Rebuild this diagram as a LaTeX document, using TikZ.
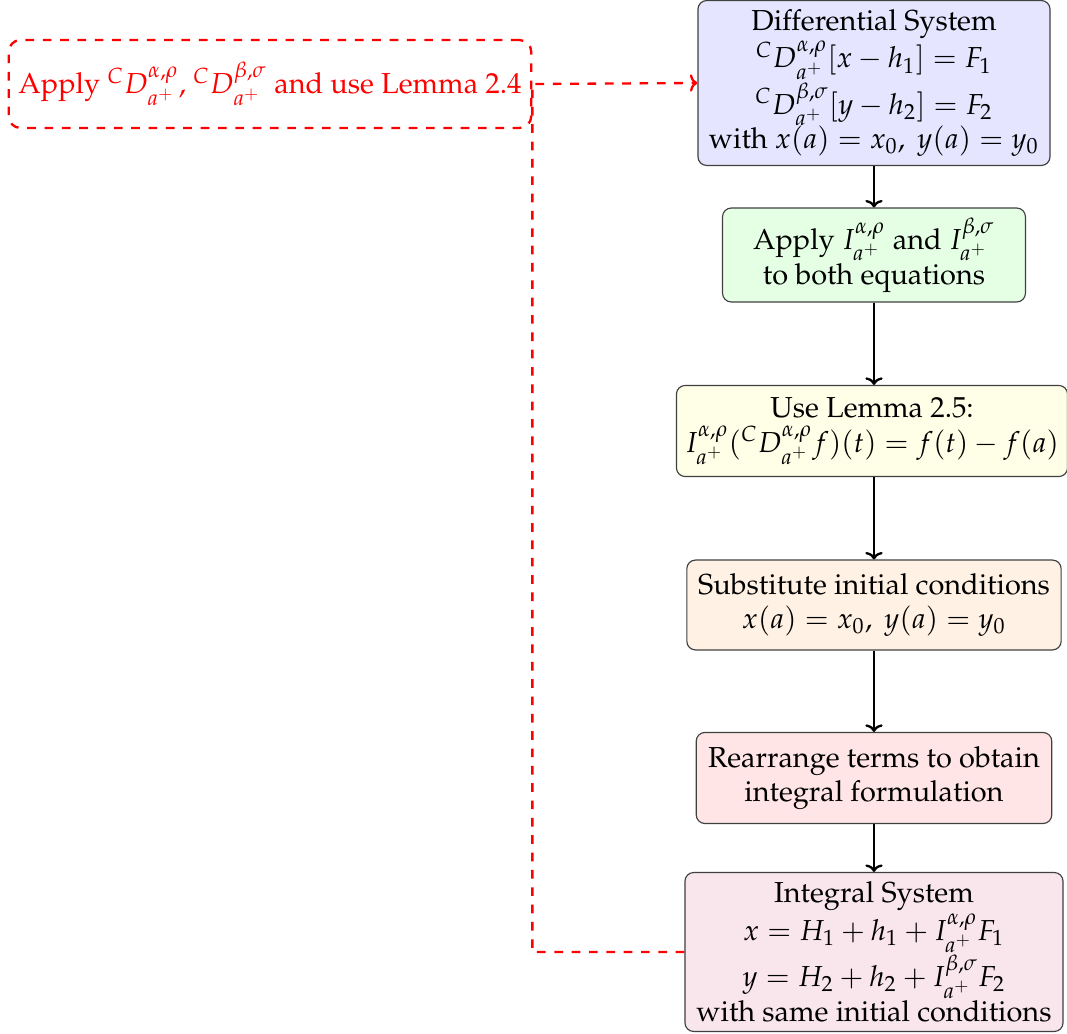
\documentclass[tikz,border=0pt]{standalone}
\usepackage[T1]{fontenc}
\usepackage{mathpazo}
\usetikzlibrary{arrows.meta}
\begin{document}
\begin{tikzpicture}[x=0.346pt,y=-0.346pt,
  box/.style={draw=black!75, rounded corners=3pt, align=center, inner sep=3pt, font=\normalsize},
  flow/.style={-{To[length=2.6pt,width=6pt]}, thick, black},
  reddash/.style={-{To[length=2.6pt,width=6pt]}, red, dashed, thick},
  applybox/.style={draw=red, dashed, thick, rounded corners=4pt, text=red, font=\normalsize, minimum width=180pt, minimum height=30.4pt}]
\useasboundingbox (0,0) rectangle (1067,1034);
\node[box, fill=blue!10, minimum width=121.8pt, minimum height=56.7pt] (diff) at (874,83)
  {Differential System\\ ${}^{C}D^{\alpha,\rho}_{a^+}[x-h_1]=F_1$\\ ${}^{C}D^{\beta,\sigma}_{a^+}[y-h_2]=F_2$\\ with $x(a)=x_0,\ y(a)=y_0$};
\node[box, fill=green!10, minimum width=104.8pt, minimum height=32.5pt] (apI) at (874,255)
  {Apply $I^{\alpha,\rho}_{a^+}$ and $I^{\beta,\sigma}_{a^+}$\\ to both equations};
\node[box, fill=yellow!10, minimum width=134pt, minimum height=31.5pt] (lem) at (872,431)
  {Use Lemma 2.5:\\ $I^{\alpha,\rho}_{a^+}({}^{C}D^{\alpha,\rho}_{a^+}f)(t)=f(t)-f(a)$};
\node[box, fill=orange!10, minimum width=129.5pt, minimum height=31.1pt] (sub) at (874,605)
  {Substitute initial conditions\\ $x(a)=x_0,\ y(a)=y_0$};
\node[box, fill=red!10, minimum width=123pt, minimum height=31.5pt] (rea) at (874,778)
  {Rearrange terms to obtain\\ integral formulation};
\node[box, fill=purple!10, minimum width=130.8pt, minimum height=55pt] (int) at (874,952)
  {Integral System\\ $x=H_1+h_1+I^{\alpha,\rho}_{a^+}F_1$\\ $y=H_2+h_2+I^{\beta,\sigma}_{a^+}F_2$\\ with same initial conditions};
\node[applybox] (app) at (270,84)
  {Apply ${}^{C}D^{\alpha,\rho}_{a^+}$, ${}^{C}D^{\beta,\sigma}_{a^+}$ and use Lemma 2.4};
\draw[flow] (diff) -- (apI);
\draw[flow] (apI) -- (apI |- lem.north);
\draw[flow] (lem.south -| sub) -- (sub);
\draw[flow] (sub) -- (rea);
\draw[flow] (rea) -- (int);
\draw[reddash] (int.west) -| (app.east) -- (diff.west);
\end{tikzpicture}
\end{document}
